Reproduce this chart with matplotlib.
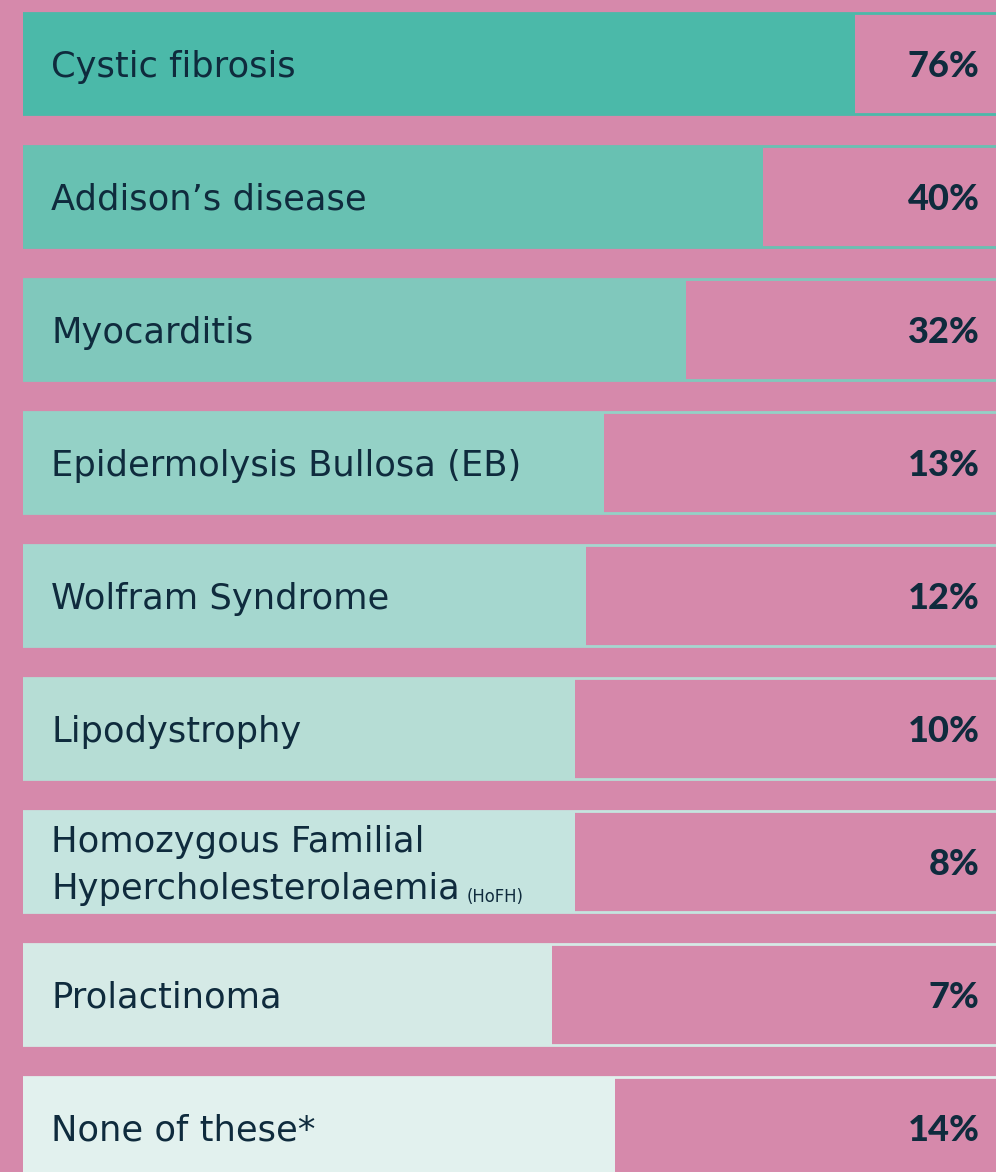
import matplotlib
matplotlib.use("Agg")
import matplotlib.pyplot as plt
import numpy as np

# etiquetas e valores
labels = ["Cystic fibrosis", "Addison\u2019s disease", "Myocarditis",
          "Epidermolysis Bullosa (EB)", "Wolfram Syndrome", "Lipodystrophy",
          "Homozygous Familial\nHypercholesterolaemia", "Prolactinoma",
          "None of these*"]
suffixes = ["", "", "", "", "", "", "(HoFH)", "", ""]
values = [76, 40, 32, 13, 12, 10, 8, 7, 14]
# comprimento visual das barras (fração da faixa)
bar_len = [0.855, 0.761, 0.681, 0.597, 0.579, 0.567, 0.567, 0.544, 0.608]
colors = ["#4bb9a9", "#68c1b2", "#80c8bc", "#94d1c6", "#a5d7cf",
          "#b6ddd5", "#c5e4df", "#d5eae6", "#e2f1ee"]

pink = "#d689ab"
ink = "#0f2b3d"

fig = plt.figure(figsize=(9.96, 11.72), dpi=100)
fig.patch.set_facecolor(pink)
ax = fig.add_axes([23 / 996, 0, 1 - 23 / 996, 1])
ax.set_facecolor(pink)

y = np.arange(len(labels))
h = 0.76

# faixa de fundo com borda na cor da barra
ax.barh(y, [1.05] * len(y), height=h, color=pink, edgecolor=colors,
        linewidth=2.0, zorder=1)
# barras
ax.barh(y, bar_len, height=h, color=colors, linewidth=0, zorder=2)

for i, (lab, suf, v) in enumerate(zip(labels, suffixes, values)):
    lines = lab.split("\n")
    if len(lines) == 1:
        offs = [0.1]
    else:
        offs = [-0.071, 0.282]
    t = None
    for ln, o in zip(lines, offs):
        t = ax.text(0.029, i + o, ln, va="baseline", ha="left", fontsize=25.4,
                    family="DejaVu Sans", color=ink, zorder=3)
    if suf:
        ax.annotate(suf, xy=(1, 0), xycoords=t, xytext=(5, 0),
                    textcoords="offset points", fontsize=11.9,
                    family="DejaVu Sans", color=ink, va="bottom", ha="left",
                    zorder=3)
    ax.text(0.983, i + 0.1, f"{v}%", va="baseline", ha="right", fontsize=26,
            family="Lato", weight="black", color=ink, zorder=3)

ax.set_xlim(0, 1)
ax.set_ylim(8.335, -0.477)
ax.axis("off")

fig.savefig("out.png", dpi=100, facecolor=pink)
